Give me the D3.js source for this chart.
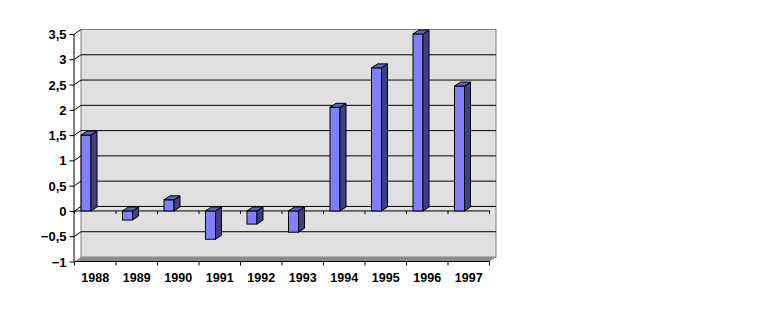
<!DOCTYPE html>
<html>
<head>
<meta charset="utf-8">
<script src="https://cdn.jsdelivr.net/npm/d3@7"></script>
<style>
  body { margin: 0; background: #fff; }
  text { font-family: "Liberation Sans", Arial, sans-serif; font-weight: bold; font-size: 12px; fill: #000; }
</style>
</head>
<body>
<div id="wrapper"></div>
<script>
// data
const years = ["1988", "1989", "1990", "1991", "1992", "1993", "1994", "1995", "1996", "1997"]
const values = [1.5, -0.18, 0.22, -0.56, -0.26, -0.42, 2.05, 2.83, 3.5, 2.47]
const yTicks = [-1, -0.5, 0, 0.5, 1, 1.5, 2, 2.5, 3, 3.5]

const width = 777, height = 312

const svg = d3.select("#wrapper")
    .append("svg")
    .attr("width", width)
    .attr("height", height)

// 3d depth offset (front = back + (-dx, +dy))
const dx = 6.5, dy = 4.5
const back = {left: 81, right: 496, top: 29.5, bottom: 257}

const yBack = d3.scaleLinear().domain([-1, 3.5]).range([back.bottom, back.top])
const yFront = d3.scaleLinear().domain([-1, 3.5]).range([back.bottom + dy, back.top + dy])
const xFront = d3.scaleBand().domain(years).range([back.left - dx, back.right - dx])

const fmt = d3.formatLocale({decimal: ",", thousands: ".", grouping: [3], currency: ["", ""]}).format("~g")

// back wall
svg.append("rect")
    .attr("x", back.left).attr("y", back.top)
    .attr("width", back.right - back.left).attr("height", back.bottom - back.top)
    .style("fill", "#e0e0e0").style("stroke", "#808080")

// gridlines on back wall + little diagonals on the side wall
const inner = yTicks.filter(d => d > -1 && d < 3.5)
svg.selectAll(".grid")
    .data(inner)
    .enter()
    .append("line")
        .attr("x1", back.left).attr("x2", back.right)
        .attr("y1", d => yBack(d)).attr("y2", d => yBack(d))
        .style("stroke", "#000")
svg.selectAll(".side")
    .data(yTicks.filter(d => d > -1))
    .enter()
    .append("line")
        .attr("x1", back.left - dx).attr("x2", back.left)
        .attr("y1", d => yFront(d)).attr("y2", d => yBack(d))
        .style("stroke", "#000")

// floor
const fl = [[back.left, back.bottom], [back.right, back.bottom],
            [back.right - dx, back.bottom + dy], [back.left - dx, back.bottom + dy]]
svg.append("polygon")
    .attr("points", fl.map(p => p.join(",")).join(" "))
    .style("fill", "#8c8c8c")
svg.append("line")
    .attr("x1", back.left - dx).attr("x2", back.right - dx)
    .attr("y1", back.bottom + dy).attr("y2", back.bottom + dy)
    .style("stroke", "#000")

// category axis at zero, front plane
const x0 = back.left - dx, x1 = back.right - dx
svg.append("line")
    .attr("x1", x0).attr("x2", x1)
    .attr("y1", yFront(0)).attr("y2", yFront(0))
    .style("stroke", "#000")
const bounds = years.map(d => xFront(d)).concat([x1])
svg.selectAll(".tick0")
    .data(bounds)
    .enter()
    .append("line")
        .attr("x1", d => d).attr("x2", d => d)
        .attr("y1", yFront(0)).attr("y2", yFront(0) + 3)
        .style("stroke", "#000")
svg.selectAll(".tickB")
    .data(bounds)
    .enter()
    .append("line")
        .attr("x1", d => d).attr("x2", d => d)
        .attr("y1", back.bottom + dy).attr("y2", back.bottom + dy + 4)
        .style("stroke", "#000")

// value axis
const yAxis = d3.axisLeft(yFront)
    .tickValues(yTicks)
    .tickFormat(d => fmt(d))
    .tickSize(5)
    .tickPadding(3)
svg.append("g")
    .attr("transform", `translate(${back.left - dx},0)`)
    .call(yAxis)
    .call(g => g.select(".domain").attr("d", `M-0.5,${yFront(3.5)}V${yFront(-1)}`))
    .call(g => g.selectAll("text").attr("dy", "0.35em").style("font-size", "13px").style("font-family", "Liberation Sans, Arial").style("font-weight", "bold"))

// category labels
const xAxis = d3.axisBottom(xFront).tickSize(0).tickPadding(12)
svg.append("g")
    .attr("transform", `translate(0,${back.bottom + dy})`)
    .call(xAxis)
    .call(g => g.select(".domain").remove())
    .call(g => g.selectAll("text").style("font-size", "12.5px").style("font-family", "Liberation Sans, Arial").style("font-weight", "bold"))

// bars
const barW = 10, bdx = 6, bdy = 4
const bars = years.map((y, i) => ({year: y, v: values[i]}))
const g = svg.selectAll(".bar")
    .data(bars)
    .enter()
    .append("g")
g.each(function(d) {
    const sel = d3.select(this)
    const xl = xFront(d.year) + dx
    const xr = xl + barW
    const yt = yFront(Math.max(d.v, 0))
    const yb = yFront(Math.min(d.v, 0))
    // front
    sel.append("rect")
        .attr("x", xl).attr("y", yt)
        .attr("width", barW).attr("height", yb - yt)
        .style("fill", "#8080ff").style("stroke", "#000")
    // side
    sel.append("polygon")
        .attr("points", [[xr, yt], [xr + bdx, yt - bdy], [xr + bdx, yb - bdy], [xr, yb]].map(p => p.join(",")).join(" "))
        .style("fill", "#404080").style("stroke", "#000")
    // top
    sel.append("polygon")
        .attr("points", [[xl, yt], [xl + bdx, yt - bdy], [xr + bdx, yt - bdy], [xr, yt]].map(p => p.join(",")).join(" "))
        .style("fill", "#6060c0").style("stroke", "#000")
})
</script>
</body>
</html>
